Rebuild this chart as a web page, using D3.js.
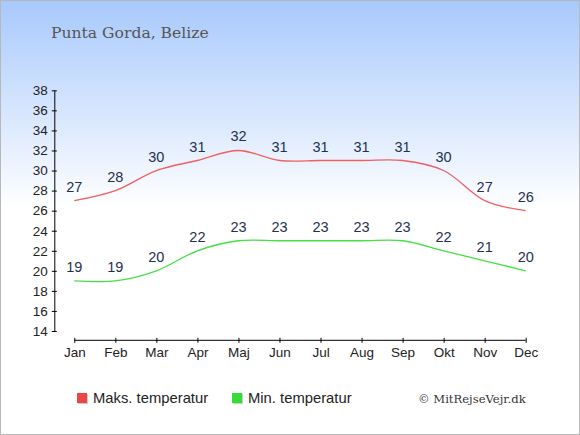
<!DOCTYPE html>
<html>
<head>
<meta charset="utf-8">
<script src="https://cdn.jsdelivr.net/npm/d3@7"></script>
<style>
  body { margin: 0; }
</style>
</head>
<body>
<div class="chart"></div>
<script>
const months = ["Jan", "Feb", "Mar", "Apr", "Maj", "Jun", "Jul", "Aug", "Sep", "Okt", "Nov", "Dec"];
const maxTemp = [27, 28, 30, 31, 32, 31, 31, 31, 31, 30, 27, 26];
const minTemp = [19, 19, 20, 22, 23, 23, 23, 23, 23, 22, 21, 20];
const yTicks = [14, 16, 18, 20, 22, 24, 26, 28, 30, 32, 34, 36, 38];

const width = 580, height = 435;

svg = d3.select(".chart")
    .append("svg")
    .attr("width", width)
    .attr("height", height);

defs = svg.append("defs");
grad = defs.append("linearGradient")
    .attr("id", "bg")
    .attr("x1", 0).attr("y1", 0)
    .attr("x2", 0).attr("y2", 1);
grad.append("stop").attr("offset", "0%").attr("stop-color", "#a8c9fc");
grad.append("stop").attr("offset", "48%").attr("stop-color", "#ffffff");
grad.append("stop").attr("offset", "100%").attr("stop-color", "#ffffff");

svg.append("rect")
    .attr("x", 0.5)
    .attr("y", 0.5)
    .attr("width", width - 1)
    .attr("height", height - 1)
    .attr("fill", "url(#bg)")
    .attr("stroke", "#b8b8b8");

svg.append("text")
    .attr("x", 51)
    .attr("y", 38)
    .attr("font-family", "DejaVu Serif, serif")
    .attr("font-size", "15.6px")
    .attr("fill", "#555")
    .text("Punta Gorda, Belize");

x = d3.scalePoint()
    .domain(months)
    .range([74.3, 525.7]);

y = d3.scaleLinear()
    .domain([14, 38])
    .range([331, 90.3]);

// y axis
yAxis = svg.append("g")
    .attr("transform", "translate(54.3,0)")
    .call(d3.axisLeft(y).tickValues(yTicks).tickSize(2.5).tickSizeOuter(0));
yAxis.select(".domain").attr("stroke", "#000");
yAxis.selectAll(".tick line").attr("x1", 2.5).attr("x2", -2.5).attr("stroke", "#000");
yAxis.selectAll(".tick text")
    .attr("x", -6.5)
    .attr("font-family", "Liberation Sans, Arial, sans-serif")
    .attr("font-size", "13.5px")
    .attr("fill", "#222");

// x axis
xAxis = svg.append("g")
    .attr("transform", "translate(0,340.3)")
    .call(d3.axisBottom(x).tickSize(2.5).tickSizeOuter(0));
xAxis.select(".domain").attr("stroke", "#000").attr("d", `M${x("Jan")},0H${x("Dec")}`);
xAxis.selectAll(".tick line").attr("y1", -2.5).attr("y2", 2.5).attr("stroke", "#000");
xAxis.selectAll(".tick text")
    .attr("y", 7)
    .attr("font-family", "Liberation Sans, Arial, sans-serif")
    .attr("font-size", "13.5px")
    .attr("fill", "#222");

line = d3.line()
    .x((d, i) => x(months[i]))
    .y(d => y(d))
    .curve(d3.curveCatmullRom.alpha(0.5));

svg.append("path")
    .attr("fill", "none")
    .attr("stroke", "#f06060")
    .attr("stroke-width", 1.3)
    .attr("d", line(maxTemp));

svg.append("path")
    .attr("fill", "none")
    .attr("stroke", "#44e044")
    .attr("stroke-width", 1.3)
    .attr("d", line(minTemp));

[maxTemp, minTemp].forEach(function(series) {
    svg.append("g")
        .selectAll("text")
        .data(series)
        .join("text")
        .attr("x", (d, i) => x(months[i]))
        .attr("y", d => y(d) - 9)
        .attr("text-anchor", "middle")
        .attr("font-family", "Liberation Sans, Arial, sans-serif")
        .attr("font-size", "14.5px")
        .attr("fill", "#1f3050")
        .text(d => d);
});

// legend
legend = [
    {label: "Maks. temperatur", color: "#ee4444", x: 77},
    {label: "Min. temperatur", color: "#33dd33", x: 232}
];
lg = svg.append("g");
legend.forEach(function(l) {
    lg.append("rect")
        .attr("x", l.x + 1).attr("y", 394)
        .attr("width", 10).attr("height", 10)
        .attr("fill", "#ccc");
    lg.append("rect")
        .attr("x", l.x).attr("y", 393)
        .attr("width", 10).attr("height", 10)
        .attr("fill", l.color);
    lg.append("text")
        .attr("x", l.x + 16)
        .attr("y", 403)
        .attr("font-family", "Liberation Sans, Arial, sans-serif")
        .attr("font-size", "14.8px")
        .attr("fill", "#222")
        .text(l.label);
});

svg.append("text")
    .attr("x", 418)
    .attr("y", 403)
    .attr("font-family", "DejaVu Serif, serif")
    .attr("font-size", "11.6px")
    .attr("fill", "#333")
    .text("© MitRejseVejr.dk");
</script>
</body>
</html>
